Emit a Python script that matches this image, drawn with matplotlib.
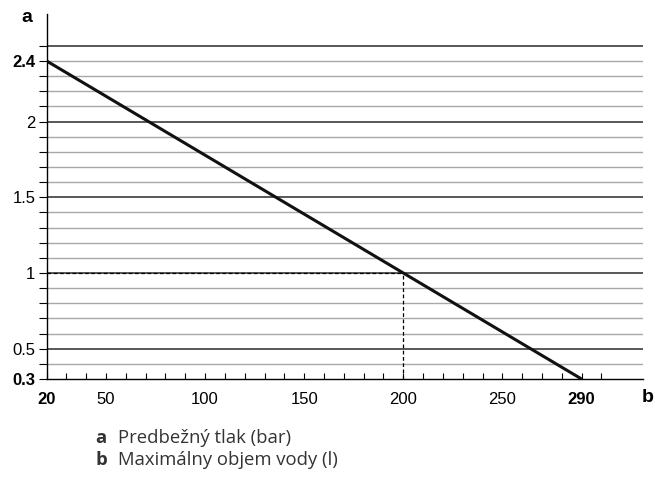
import matplotlib
matplotlib.use("Agg")
import matplotlib.pyplot as plt
import numpy as np

# Data
line_x = [20, 290]
line_y = [2.4, 0.3]
ref_x = 200
ref_y = 1.0
x_ticks = [20, 50, 100, 150, 200, 250, 290]
x_tick_labels = ["20", "50", "100", "150", "200", "250", "290"]
x_bold = ["20", "290"]
y_ticks = [0.3, 0.5, 1.0, 1.5, 2.0, 2.4]
y_tick_labels = ["0.3", "0.5", "1", "1.5", "2", "2.4"]
y_bold = ["0.3", "2.4"]
legend_keys = ["a", "b"]
legend_texts = ["Predbežný tlak (bar)", "Maximálny objem vody (l)"]

plt.rcParams['font.family'] = ['Liberation Sans', 'DejaVu Sans']

W, H = 655, 482
fig = plt.figure(figsize=(W / 100, H / 100), dpi=100)
ax_l, ax_r, ax_t, ax_b = 46.6, 643, 14, 379
ax = fig.add_axes([ax_l / W, 1 - ax_b / H, (ax_r - ax_l) / W, (ax_b - ax_t) / H])

xmin, xmax = 20, 321
ymin, ymax = 0.3, 2.71
ax.set_xlim(xmin, xmax)
ax.set_ylim(ymin, ymax)

# horizontal grid lines every 0.1
for k in range(4, 26):
    yv = k / 10
    major = (k % 5 == 0)
    ax.axhline(yv, color="#2a2a2a" if major else "#a8a8a8",
               lw=1.1 if major else 1.0, zorder=1)

# dashed reference lines
ax.plot([xmin, ref_x], [ref_y, ref_y], color="black", lw=0.9, ls=(0, (3, 2)), zorder=2)
ax.plot([ref_x, ref_x], [ymin, ref_y], color="black", lw=0.9, ls=(0, (3, 2)), zorder=2)

# main line
ax.plot(line_x, line_y, color="#111111", lw=2.2, solid_capstyle="butt", zorder=3)

for s in ["top", "right"]:
    ax.spines[s].set_visible(False)
for s in ["left", "bottom"]:
    ax.spines[s].set_linewidth(1.0)
    ax.spines[s].set_color("black")
    ax.spines[s].set_zorder(4)

ax.set_xticks(x_ticks)
ax.set_xticklabels(x_tick_labels)
ax.set_xticks(np.arange(30, 310, 10), minor=True)
ax.set_yticks(y_ticks)
ax.set_yticklabels(y_tick_labels)
ax.set_yticks(np.arange(0.4, 2.6, 0.1), minor=True)

ax.tick_params(axis="x", which="both", direction="in", length=4, width=0.8, pad=9, labelsize=12)
ax.tick_params(axis="y", which="both", direction="out", length=6, width=0.8, pad=2, labelsize=12)

for lbl in ax.get_xticklabels():
    if lbl.get_text() in x_bold:
        lbl.set_fontweight("bold")
for lbl in ax.get_yticklabels():
    if lbl.get_text() in y_bold:
        lbl.set_fontweight("bold")

# axis letters
fig.text(27 / W, 1 - 18 / H, "a", fontsize=14, fontweight="bold", ha="center", va="center")
fig.text(648 / W, 1 - 397 / H, "b", fontsize=14, fontweight="bold", ha="center", va="center")

# legend below
for i, (k, t) in enumerate(zip(legend_keys, legend_texts)):
    yy = 1 - (438 + i * 22) / H
    fig.text(101 / W, yy, k, fontsize=13.3, fontweight="bold", color="#333333",
             ha="center", va="center", family=["Open Sans", "DejaVu Sans"])
    fig.text(118 / W, yy, t, fontsize=13.3, color="#333333",
             ha="left", va="center", family=["Open Sans", "DejaVu Sans"])

fig.savefig("out.png", dpi=100)
